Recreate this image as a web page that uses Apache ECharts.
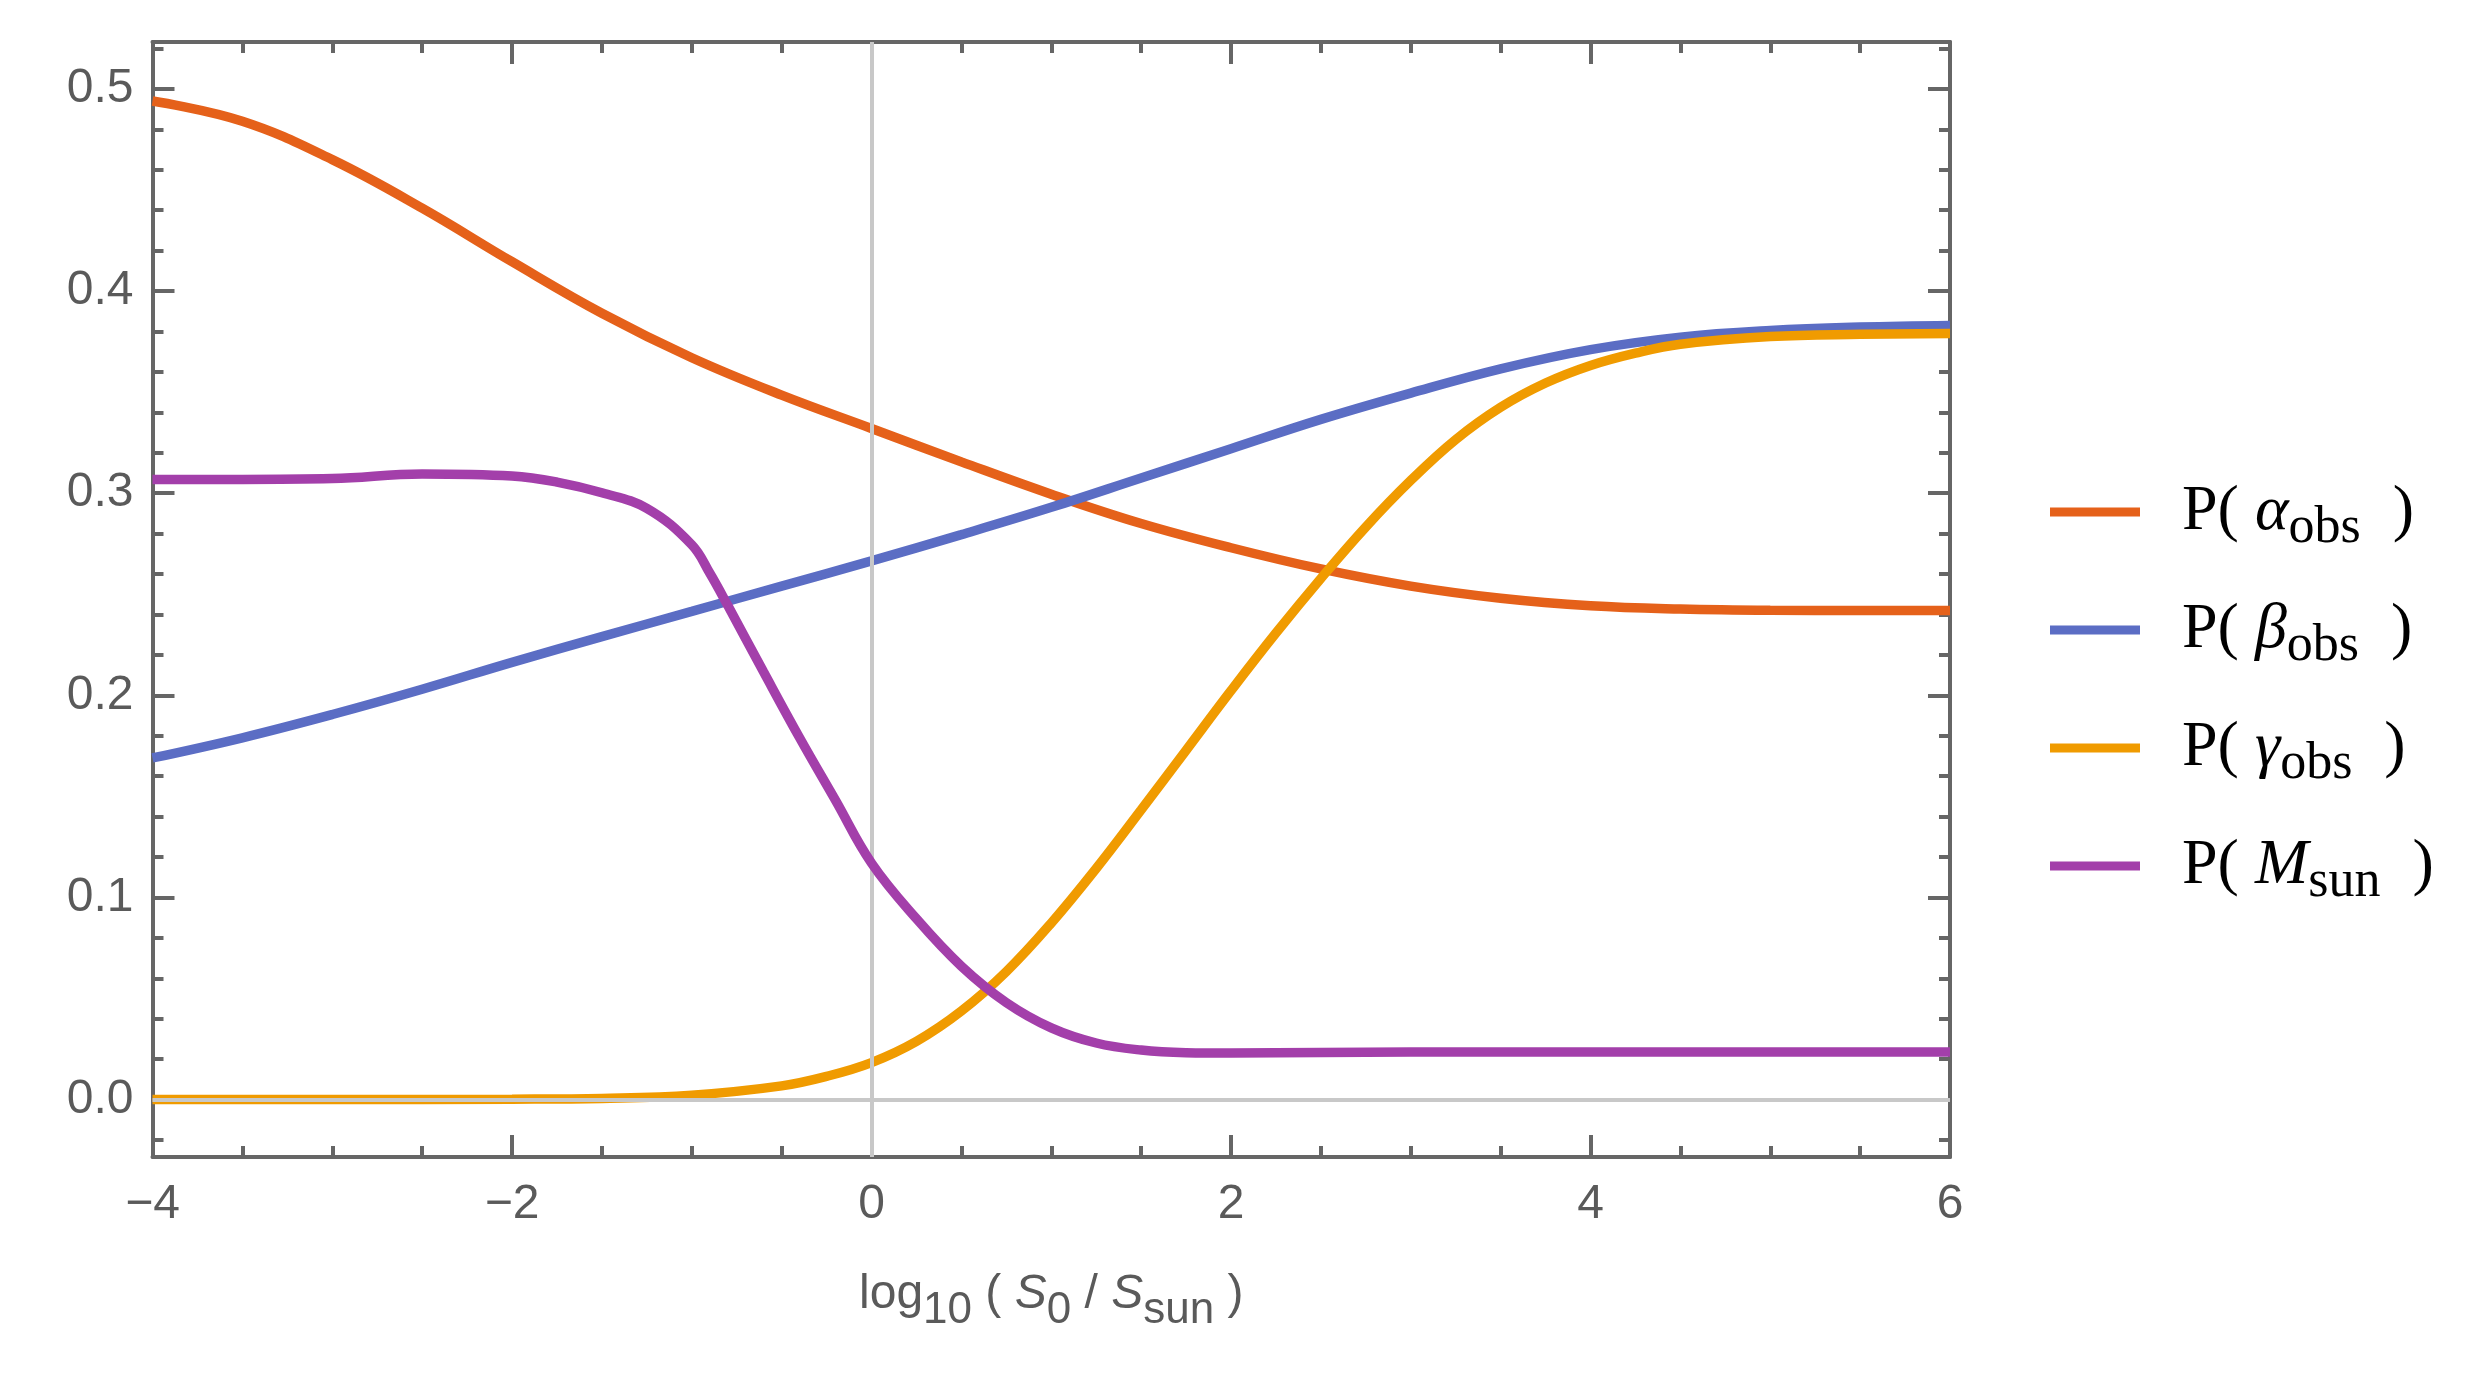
<!DOCTYPE html>
<html>
<head>
<meta charset="utf-8">
<script src="https://cdn.jsdelivr.net/npm/echarts@6/dist/echarts.min.js"></script>
<style>
html,body{margin:0;padding:0;background:#fff;}
#chart{width:2471px;height:1374px;}
</style>
</head>
<body>
<div id="chart"></div>
<script>
// ---- data ----
const xGrid = [-4,-3.5,-3,-2.5,-2,-1.5,-1,-0.5,0,0.5,1,1.5,2,2.5,3,3.5,4,4.5,5,5.5,6];
const alphaY = [0.494,0.484,0.465,0.441,0.4145,0.389,0.367,0.3485,0.332,0.3155,0.2995,0.285,0.273,0.2625,0.254,0.248,0.2443,0.2427,0.2421,0.242,0.242];
const betaY  = [0.169,0.179,0.1905,0.203,0.2163,0.229,0.2415,0.254,0.2665,0.2795,0.293,0.3075,0.322,0.3365,0.3495,0.3615,0.371,0.3772,0.3805,0.3822,0.383];
const gammaX = [-4,-3,-2,-1.5,-1,-0.5,-0.25,0,0.25,0.5,0.75,1,1.25,1.5,1.75,2,2.25,2.5,2.75,3,3.25,3.5,3.75,4,4.25,4.5,5,5.5,6];
const gammaY = [0,0,0.0002,0.0006,0.0022,0.0068,0.0115,0.0183,0.0288,0.0438,0.0633,0.0873,0.1143,0.1433,0.1728,0.2023,0.2308,0.2578,0.2833,0.3063,0.3265,0.3425,0.3545,0.3632,0.3693,0.3737,0.3775,0.3786,0.379];
const msunX = [-4,-3.5,-3,-2.5,-2,-1.75,-1.5,-1.25,-1,-0.9,-0.8,-0.6,-0.4,-0.2,0,0.25,0.5,0.75,1,1.25,1.5,1.75,2,2.5,3,4,5,6];
const msunY = [0.3068,0.3068,0.3072,0.3095,0.3085,0.3055,0.3002,0.2925,0.2745,0.2605,0.2445,0.2115,0.1790,0.1480,0.1170,0.0895,0.0660,0.0480,0.0355,0.0280,0.0245,0.0232,0.0230,0.0233,0.0235,0.0236,0.0236,0.0236];
const seriesNames = ['alpha','beta','gamma','msun'];
const seriesColors = ['#E5611A','#5B6DC4','#F09B00','#A33FAA'];
const yMajor = [0,0.1,0.2,0.3,0.4,0.5];
const yMinor = [-0.02,0.02,0.04,0.06,0.08,0.12,0.14,0.16,0.18,0.22,0.24,0.26,0.28,0.32,0.34,0.36,0.38,0.42,0.44,0.46,0.48,0.52];
const yMin = -0.0284, yMax = 0.5232;
const xMin = -4, xMax = 6, xStep = 2;

function pairs(xs, ys){ return xs.map((x,i)=>[x, ys[i]]); }

const legendRich = {
  sp:{width:37},
  t:{fontFamily:'Liberation Serif', fontSize:64, color:'#000', lineHeight:80},
  g:{fontFamily:'Liberation Serif', fontStyle:'italic', fontSize:64, color:'#000', lineHeight:80},
  s:{fontFamily:'Liberation Serif', fontSize:52, color:'#000', lineHeight:80, padding:[32,0,0,0]}
};
const legendText = {
  alpha:'{sp|}{t|P( }{g|α}{s|obs}{t|  )}',
  beta:'{sp|}{t|P( }{g|β}{s|obs}{t|  )}',
  gamma:'{sp|}{t|P( }{g|γ}{s|obs}{t|  )}',
  msun:'{sp|}{t|P( }{g|M}{s|sun}{t|  )}'
};

const frameColor = '#666666';
const labelColor = '#5a5a5a';
const tickFont = 'Liberation Sans';

function xAxisCfg(pos, withLabels){
  return {
    type:'value', min:xMin, max:xMax, interval:xStep, position:pos,
    axisLine:{show:true, onZero:false, lineStyle:{color:frameColor, width:4}},
    axisTick:{show:true, inside:true, length:22, lineStyle:{color:frameColor, width:4}},
    minorTick:{show:true, splitNumber:4, length:11, lineStyle:{color:frameColor, width:4}},
    splitLine:{show:false}, minorSplitLine:{show:false},
    axisLabel: withLabels ? {
      show:true, margin:24, fontSize:48, fontFamily:tickFont, color:labelColor,
      formatter: v => v < 0 ? '\u2212' + Math.abs(v) : String(v)
    } : {show:false},
    name: withLabels ? '{n|log}{sb|10}{n| ( }{i|S}{sb|0}{n| / }{i|S}{sb|sun}{n| )}' : '',
    nameLocation:'middle', nameGap:108,
    nameTextStyle: withLabels ? {
      rich:{
        n:{fontFamily:tickFont, fontSize:48, color:labelColor, lineHeight:60},
        i:{fontFamily:tickFont, fontStyle:'italic', fontSize:48, color:labelColor, lineHeight:60},
        sb:{fontFamily:tickFont, fontSize:44, color:labelColor, lineHeight:60, padding:[32,0,0,0]}
      }
    } : {}
  };
}
function yAxisCfg(pos, major){
  return {
    type:'value', min:yMin, max:yMax, position:pos,
    axisLine:{show:major, onZero:false, lineStyle:{color:frameColor, width:4}},
    axisTick:{show:true, inside:true, length: major ? 22 : 11, customValues: major ? yMajor : yMinor,
      lineStyle:{color:frameColor, width:4}},
    splitLine:{show:false},
    axisLabel: (major && pos === 'left') ? {
      show:true, margin:19, fontSize:48, fontFamily:tickFont, color:labelColor,
      customValues: yMajor, formatter: v => v.toFixed(1)
    } : {show:false}
  };
}

const chart = echarts.init(document.getElementById('chart'), null, {renderer:'canvas'});
const curves = [pairs(xGrid, alphaY), pairs(xGrid, betaY), pairs(gammaX, gammaY), pairs(msunX, msunY)];

const option = {
  animation:false,
  backgroundColor:'#ffffff',
  grid:{left:152.5, top:42, width:1797.5, height:1115, containLabel:false},
  xAxis:[xAxisCfg('bottom', true), xAxisCfg('top', false)],
  yAxis:[yAxisCfg('left', true), yAxisCfg('left', false), yAxisCfg('right', true), yAxisCfg('right', false)],
  legend:{
    orient:'vertical', left:2050, top:470, padding:0, itemWidth:90, itemHeight:9, itemGap:34,
    icon:'rect', selectedMode:false, data:seriesNames,
    formatter: name => legendText[name],
    textStyle:{rich:legendRich}
  },
  series:[
    {
      type:'line', name:'axes', data:[], z:1, silent:true,
      markLine:{
        silent:true, symbol:['none','none'], label:{show:false},
        lineStyle:{color:'#c8c8c8', width:4, type:'solid'},
        emphasis:{disabled:true},
        data:[{xAxis:0},{yAxis:0}]
      }
    }
  ].concat(seriesNames.map((n, i) => ({
    type:'line', name:n, data:curves[i], z:2+i,
    smooth:0.4, showSymbol:false, symbol:'none',
    lineStyle:{color:seriesColors[i], width:9.5},
    itemStyle:{color:seriesColors[i]},
    emphasis:{disabled:true}
  })))
};
chart.setOption(option);
</script>
</body>
</html>
